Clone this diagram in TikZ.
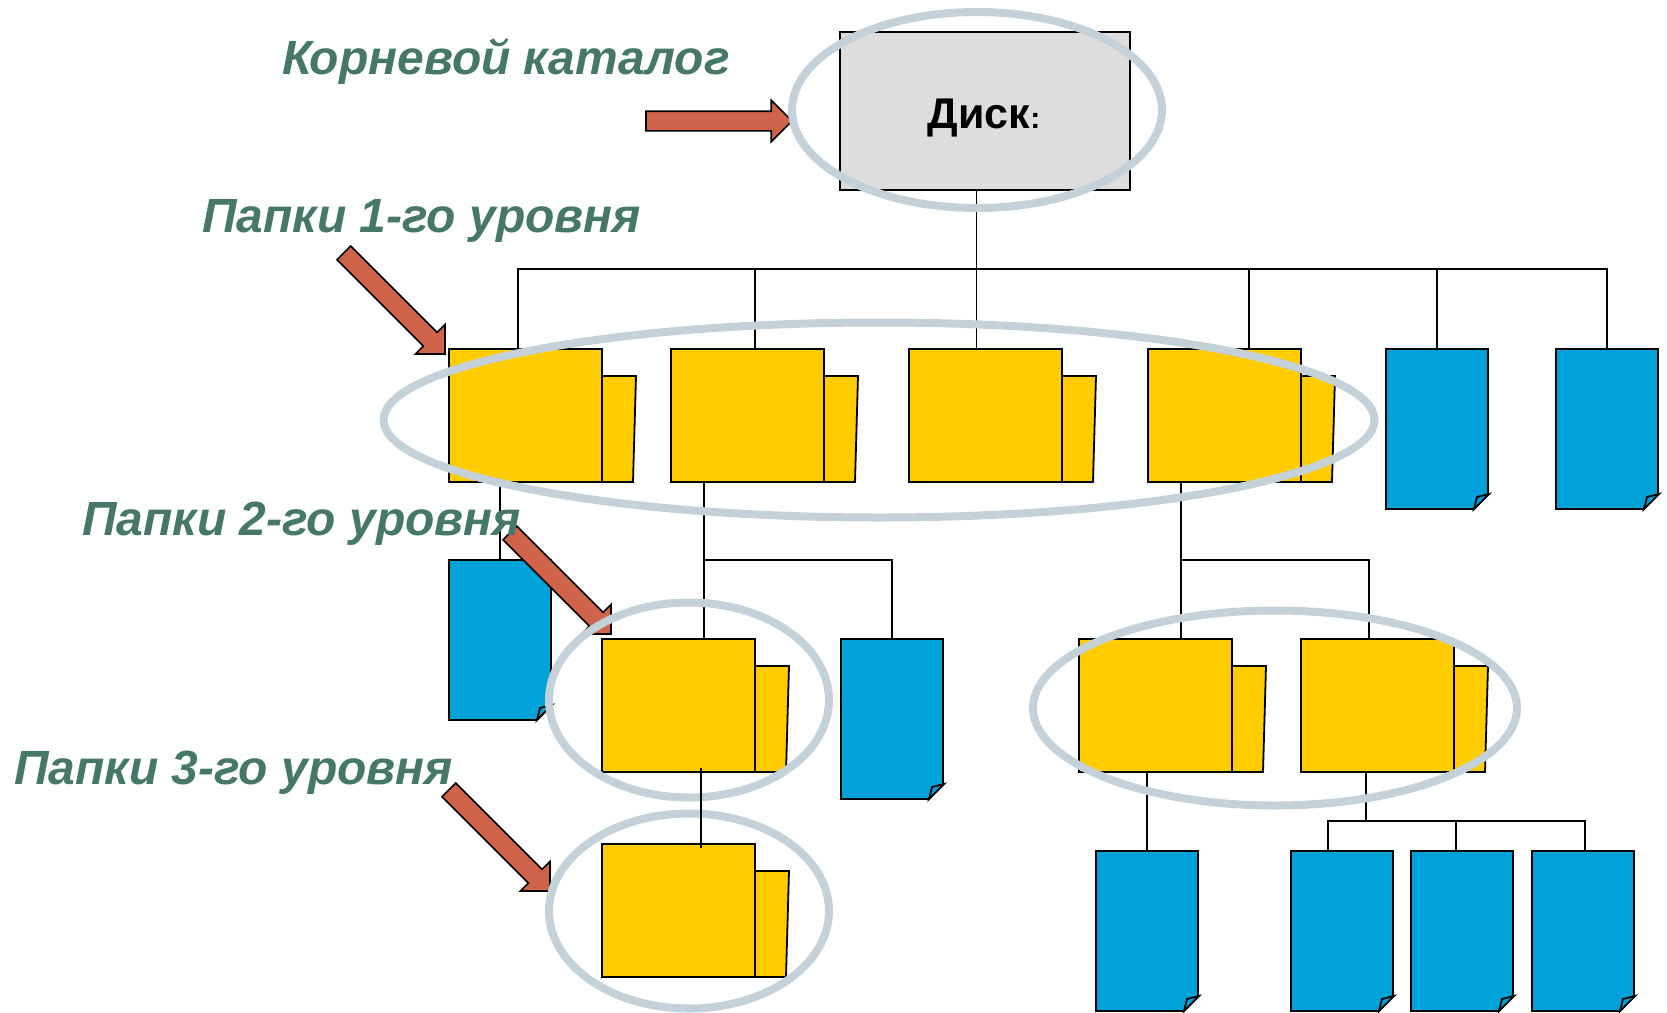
\documentclass[tikz,border=0pt]{standalone}
\usepackage{fontspec}
\setmainfont{Liberation Sans}
\usetikzlibrary{positioning,shapes.geometric,shapes.arrows,backgrounds}
\definecolor{folderyellow}{HTML}{FFCC00}
\definecolor{fileblue}{HTML}{00A3D9}
\definecolor{ringgrey}{HTML}{C5D1D8}
\definecolor{arrowred}{HTML}{D0644A}
\definecolor{labelgreen}{HTML}{46786A}
\definecolor{diskgrey}{HTML}{DDDDDD}
\tikzset{
  link/.style={line width=1.8pt},
  folderbody/.style={draw,fill=folderyellow,line width=1.8pt,minimum width=153pt,minimum height=133pt,inner sep=0pt,outer sep=0pt},
  foldertab/.style={draw,fill=folderyellow,line width=1.8pt},
  filebody/.style={minimum width=102pt,minimum height=160pt,inner sep=0pt,outer sep=0pt},
  fileshape/.style={draw,fill=fileblue,line width=1.8pt},
  ring/.style={ellipse,draw=ringgrey,line width=8pt,inner sep=0pt},
  blockarrow/.style={single arrow,draw,fill=arrowred,line width=1.6pt,inner xsep=0pt,inner ysep=9pt,outer sep=0pt,
    single arrow tip angle=90,single arrow head extend=11pt,single arrow head indent=0pt},
  levellabel/.style={anchor=west,inner sep=0pt,text=labelgreen,font=\fontsize{48}{50}\selectfont\bfseries\itshape},
}
\newcommand{\folder}[2]{
  \node[folderbody,#2] (#1) {};
  \draw[foldertab] ([yshift=-27pt]#1.north east) -- ++(34,0) -- ++(-3,106) -- (#1.south east) -- cycle;
}
\newcommand{\docfile}[2]{
  \node[filebody,#2] (#1) {};
  \draw[fileshape] (#1.north west) -- (#1.north east) -- ([yshift=15pt]#1.south east)
    -- ([xshift=-14pt]#1.south east) -- (#1.south west) -- cycle;
  \draw[fileshape] ([xshift=-14pt]#1.south east) -- ++(3,-12) -- ([shift={(1,-15)}]#1.south east) -- cycle;
}
\begin{document}
\begin{tikzpicture}[x=1pt,y=-1pt]
  \useasboundingbox (0,0) rectangle (1667,1012);

  \node[draw,fill=diskgrey,line width=1.8pt,minimum width=290pt,minimum height=158pt,inner sep=0pt,outer sep=0pt,
    anchor=north west] (disk) at (840,32) {};
  \node[anchor=base,inner sep=0pt] (disklabel) at (984,128) {\fontsize{43}{50}\selectfont\bfseries Диск\fontsize{30}{40}\selectfont:};

  % level one
  \folder{fa}{anchor=north west,at={(449,349)}}
  \folder{fb}{right=69pt of fa}
  \folder{fc}{right=85pt of fb}
  \folder{fd}{right=86pt of fc}
  \docfile{fe}{anchor=north west,at={(1386,349)}}
  \docfile{ff}{anchor=north west,at={(1556,349)}}

  % level two
  \docfile{ga}{anchor=north west,at={(449,560)}}
  \folder{gb}{anchor=north west,at={(602,639)}}
  \docfile{gc}{anchor=north west,at={(841,639)}}
  \folder{gd}{anchor=north west,at={(1079,639)}}
  \folder{ge}{right=69pt of gd}

  % level three
  \folder{ha}{anchor=north west,at={(602,844)}}
  \docfile{hb}{anchor=north west,at={(1096,851)}}
  \docfile{hc}{anchor=north west,at={(1291,851)}}
  \docfile{hd}{right=18pt of hc}
  \docfile{he}{right=19pt of hd}

  % connectors
  \begin{pgfonlayer}{background}
    \draw[link] ([xshift=-8.5pt]disk.south) coordinate (trunk) -- (trunk|-fc.north);
    \draw[link] ([xshift=-7.5pt]fa.north) -- ++(0,-80) -| (ff.north);
    \draw[link] ([xshift=7.5pt]fb.north) -- ++(0,-80);
    \draw[link] ([xshift=24.5pt]fd.north) -- ++(0,-80);
    \draw[link] (fe.north) -- ++(0,-80);
    \draw[link] (ga.north) -- (ga.north|-fa.south);
    \draw[link] ([xshift=-43.5pt]fb.south) coordinate (fbout) -- (fbout|-gb.north);
    \draw[link] (gc.north) |- (fbout|-ga.north);
    \draw[link] ([xshift=-43.5pt]fd.south) coordinate (fdout) -- (fdout|-gd.north);
    \draw[link] ([xshift=-8.5pt]ge.north) |- (fdout|-ga.north);
    \draw[link] (hb.north) -- (hb.north|-gd.south);
    \draw[link] ([xshift=-11.5pt]ge.south) -- ++(0,49);
    \draw[link] ([xshift=-14pt]hc.north) -- ++(0,-30) -| ([xshift=2pt]he.north);
    \draw[link] ([xshift=-6pt]hd.north) -- ++(0,-30);
  \end{pgfonlayer}

  % arrows
  \node[blockarrow,minimum height=146pt,anchor=tip] (arrowroot) at (792,121) {};
  \node[blockarrow,minimum height=143pt,rotate=-45,anchor=tip] (arrowone) at (445,354) {};
  \node[blockarrow,minimum height=143pt,rotate=-45,anchor=tip] (arrowtwo) at (611,634) {};
  \node[blockarrow,minimum height=143pt,rotate=-45,anchor=tip] (arrowthree) at (550,891) {};

  % rings
  \node[ring,minimum width=370pt,minimum height=196pt] (ringdisk) at (977,110) {};
  \node[ring,minimum width=991pt,minimum height=195pt] (ringone) at (879,420) {};
  \node[ring,minimum width=280pt,minimum height=195pt] (ringtwoa) at (689,700) {};
  \node[ring,minimum width=484pt,minimum height=195pt] (ringtwob) at (1275,708) {};
  \node[ring,minimum width=280pt,minimum height=195pt] (ringthree) at (689,911) {};

  \draw[link] ([shift={(22.5,-4)}]gb.south) -- ([shift={(22.5,4)}]ha.north);

  \node[levellabel] (rootlabel) at (282,62) {Корневой каталог};
  \node[levellabel] (onelabel) at (202,221) {Папки 1-го уровня};
  \node[levellabel] (twolabel) at (82,524) {Папки 2-го уровня};
  \node[levellabel] (threelabel) at (14,773) {Папки 3-го уровня};
\end{tikzpicture}
\end{document}
